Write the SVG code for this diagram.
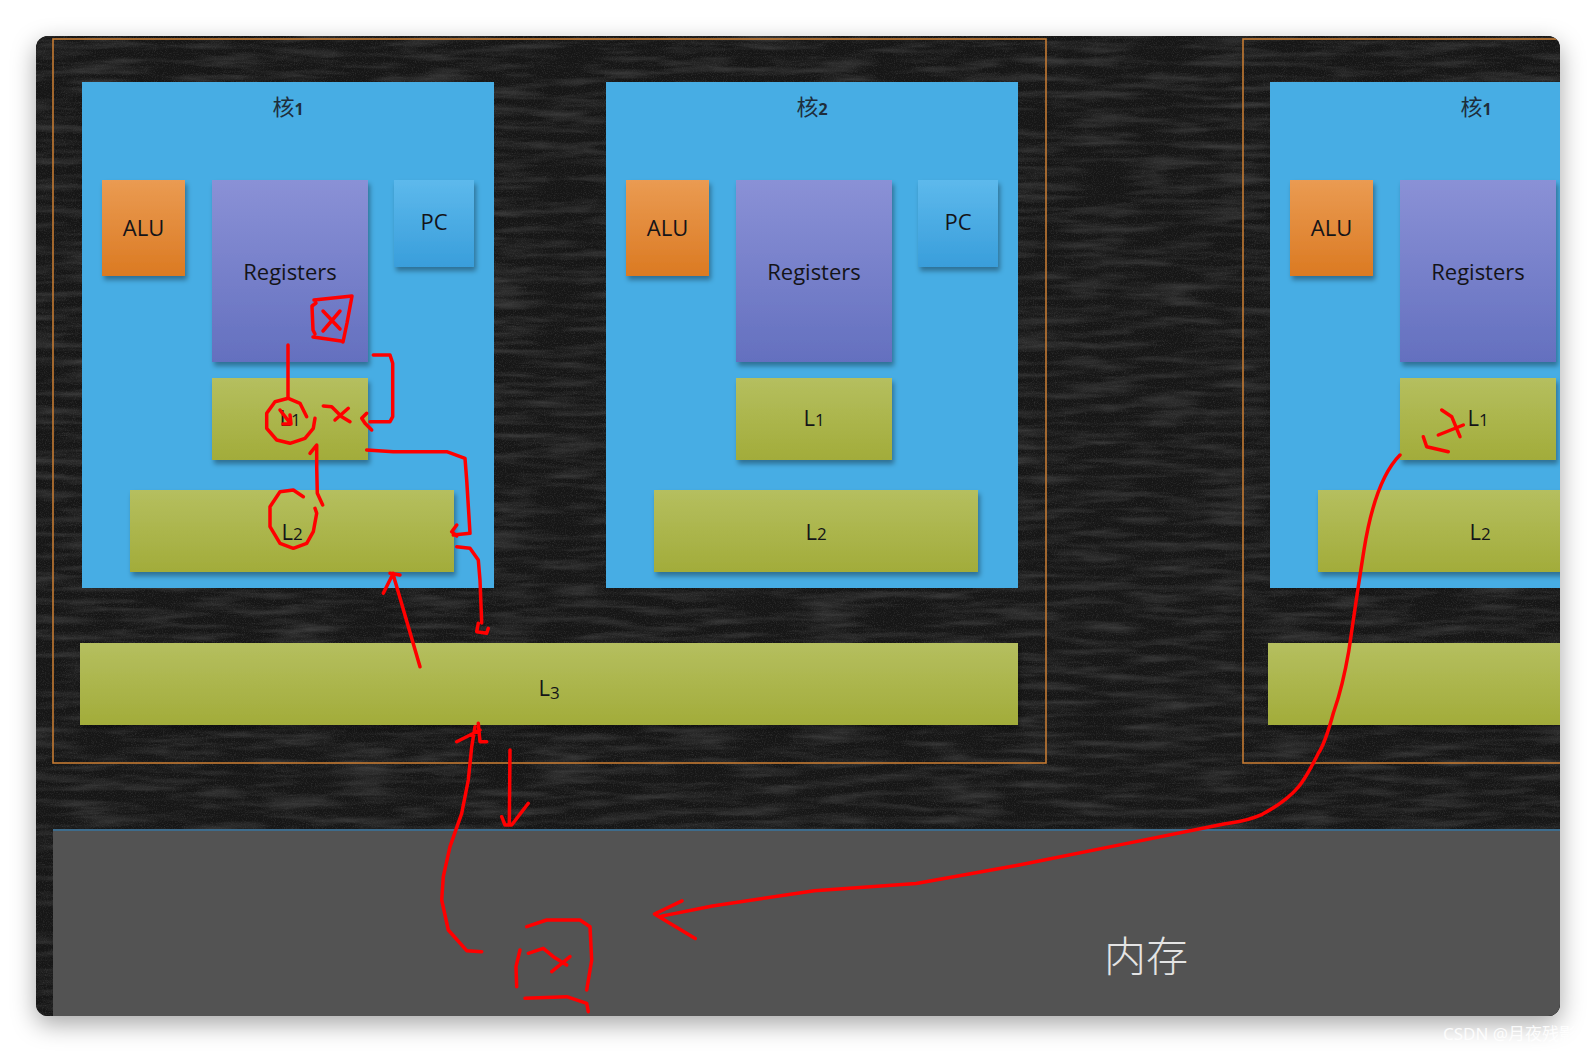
<svg xmlns="http://www.w3.org/2000/svg" width="1596" height="1052" viewBox="0 0 1596 1052">
<style>
.lbl{font-family:"Open Sans","DejaVu Sans",sans-serif;font-size:22px;fill:#141418;text-anchor:middle}
.sub{font-size:17px}
.ttl{font-family:"Noto Sans CJK SC","Noto Sans",sans-serif;font-size:22px;fill:#1e2e3c;text-anchor:middle}
.ttl .n{font-family:"Open Sans",sans-serif;font-size:16px;font-weight:bold}
.mem{font-family:"Noto Sans CJK SC",sans-serif;font-size:42px;font-weight:300;fill:#e4e4e4;text-anchor:middle}
.core{fill:#47ade4}
.alu{fill:url(#gAlu);filter:url(#sh)}
.reg{fill:url(#gReg);filter:url(#sh)}
.pc{fill:url(#gPc);filter:url(#sh)}
.cache{fill:url(#gL);filter:url(#sh)}
.frame{fill:none;stroke:#c47a32;stroke-width:1.6}
.red{fill:none;stroke:#ff0000;stroke-width:3.5;stroke-linecap:round;stroke-linejoin:round}
.wm{font-family:"Noto Sans","Noto Sans CJK SC",sans-serif;font-size:17px;fill:#ffffff;fill-opacity:0.9}
</style>
<defs>
<linearGradient id="gAlu" x1="0" y1="0" x2="0" y2="1"><stop offset="0" stop-color="#ea9b52"/><stop offset="1" stop-color="#db7a22"/></linearGradient>
<linearGradient id="gReg" x1="0" y1="0" x2="0" y2="1"><stop offset="0" stop-color="#8a91d6"/><stop offset="1" stop-color="#6470bf"/></linearGradient>
<linearGradient id="gPc" x1="0" y1="0" x2="0" y2="1"><stop offset="0" stop-color="#5db9ec"/><stop offset="1" stop-color="#399edb"/></linearGradient>
<linearGradient id="gL" x1="0" y1="0" x2="0" y2="1"><stop offset="0" stop-color="#b5bf5f"/><stop offset="1" stop-color="#a2ac3a"/></linearGradient>
<filter id="sh" x="-10%" y="-10%" width="130%" height="130%"><feDropShadow dx="2" dy="4" stdDeviation="2.5" flood-color="#000" flood-opacity="0.35"/></filter>
<filter id="win" x="-5%" y="-5%" width="110%" height="115%"><feDropShadow dx="0" dy="8" stdDeviation="12" flood-color="#000" flood-opacity="0.35"/></filter>
<filter id="chalk" x="0" y="0" width="100%" height="100%">
<feTurbulence type="fractalNoise" baseFrequency="0.015 0.12" numOctaves="5" seed="11" result="n"/>
<feColorMatrix in="n" type="matrix" values="0 0 0 0 1 0 0 0 0 1 0 0 0 0 1 1.5 0 0 0 -0.62" result="a"/>
<feTurbulence type="fractalNoise" baseFrequency="0.9" numOctaves="2" seed="3" result="g"/>
<feColorMatrix in="g" type="matrix" values="0 0 0 0 1 0 0 0 0 1 0 0 0 0 1 1.2 0 0 0 -0.55" result="b"/>
<feMerge><feMergeNode in="a"/><feMergeNode in="b"/></feMerge>
</filter>
<clipPath id="clip"><rect x="36" y="36" width="1524" height="980" rx="12"/></clipPath>
</defs>
<rect width="1596" height="1052" fill="#ffffff"/>
<rect x="36" y="36" width="1524" height="980" rx="12" fill="#161616" filter="url(#win)"/>
<g clip-path="url(#clip)">
<rect x="36" y="36" width="1524" height="980" fill="#161616"/>
<rect x="36" y="36" width="1524" height="980" fill="#fff" filter="url(#chalk)" opacity="0.2"/>

<g id="frame1"><rect class="frame" x="53" y="39" width="993" height="724"/></g>
<g id="frame2"><rect class="frame" x="1243" y="39" width="993" height="724"/></g>

<g id="core1">
<rect class="core" x="82" y="82" width="412" height="506"/>
<text class="ttl" x="288" y="115">核<tspan class="n">1</tspan></text>
</g>
<g id="core1-alu"><rect class="alu" x="102" y="180" width="83" height="96"/><text class="lbl" x="143.5" y="236">ALU</text></g>
<g id="core1-registers"><rect class="reg" x="212" y="180" width="156" height="182"/><text class="lbl" x="290" y="280">Registers</text></g>
<g id="core1-pc"><rect class="pc" x="394" y="180" width="80" height="87"/><text class="lbl" x="434" y="230">PC</text></g>
<g id="core1-l1"><rect class="cache" x="212" y="378" width="156" height="82"/><text class="lbl" x="290" y="426">L<tspan class="sub">1</tspan></text></g>
<g id="core1-l2"><rect class="cache" x="130" y="490" width="324" height="82"/><text class="lbl" x="292" y="540">L<tspan class="sub">2</tspan></text></g>

<g id="core2">
<rect class="core" x="606" y="82" width="412" height="506"/>
<text class="ttl" x="812" y="115">核<tspan class="n">2</tspan></text>
</g>
<g id="core2-alu"><rect class="alu" x="626" y="180" width="83" height="96"/><text class="lbl" x="667.5" y="236">ALU</text></g>
<g id="core2-registers"><rect class="reg" x="736" y="180" width="156" height="182"/><text class="lbl" x="814" y="280">Registers</text></g>
<g id="core2-pc"><rect class="pc" x="918" y="180" width="80" height="87"/><text class="lbl" x="958" y="230">PC</text></g>
<g id="core2-l1"><rect class="cache" x="736" y="378" width="156" height="82"/><text class="lbl" x="814" y="426">L<tspan class="sub">1</tspan></text></g>
<g id="core2-l2"><rect class="cache" x="654" y="490" width="324" height="82"/><text class="lbl" x="816" y="540">L<tspan class="sub">2</tspan></text></g>

<g id="l3-1"><rect class="cache" x="80" y="643" width="938" height="82"/><text class="lbl" x="549" y="696">L<tspan class="sub" dy="3">3</tspan></text></g>

<g id="core3">
<rect class="core" x="1270" y="82" width="412" height="506"/>
<text class="ttl" x="1476" y="115">核<tspan class="n">1</tspan></text>
</g>
<g id="core3-alu"><rect class="alu" x="1290" y="180" width="83" height="96"/><text class="lbl" x="1331.5" y="236">ALU</text></g>
<g id="core3-registers"><rect class="reg" x="1400" y="180" width="156" height="182"/><text class="lbl" x="1478" y="280">Registers</text></g>
<g id="core3-l1"><rect class="cache" x="1400" y="378" width="156" height="82"/><text class="lbl" x="1478" y="426">L<tspan class="sub">1</tspan></text></g>
<g id="core3-l2"><rect class="cache" x="1318" y="490" width="324" height="82"/><text class="lbl" x="1480" y="540">L<tspan class="sub">2</tspan></text></g>

<g id="l3-2"><rect class="cache" x="1268" y="643" width="938" height="82"/></g>

<g id="memory">
<rect x="53" y="830" width="1560" height="200" fill="#535353"/>
<line x1="53" y1="830" x2="1560" y2="830" stroke="#3e6c8c" stroke-width="2"/>
<text class="mem" x="1146" y="972">内存</text>
</g>

<g id="connectors">
<path class="red" d="M316,303 L312,306 L313,330 L315,334 M314,300 L352,296 L347,323 L343,342 M313,337 L341,341 M323,311 L340,329 M340,311 L323,331"/>
<path class="red" d="M288,345 L288,398 M280,410 L290,423 M283,424 L291,424 L290,415"/>
<path class="red" d="M306.7,416.7 L300,403.3 L288.3,398.3 L275,401.7 L266.7,413.3 L266.7,428.3 L276.7,440 L290,443.3 L305,438.3 L313.3,428.3 L315,418.3"/>
<path class="red" d="M323.3,406 L331.7,406.7 L341.7,416.7 L350,421.7 M348.3,408.3 L335,420"/>
<path class="red" d="M373.3,355 L390,355 L392.7,363.3 L392.7,416.7 L390,421.7 L370,421.7 M366.7,413.3 L361.7,418.3 L365,423.3 L371.7,430"/>
<path class="red" d="M366.7,450 L393.3,451.7 L446.7,451.7 L465,458.3 L466.7,480 L470,533.3 L453.3,535 M456.7,525 L451.7,531.7 L456.7,536"/>
<path class="red" d="M322.7,505 L317.3,493.3 L316.7,466.7 L316.7,445 L310,453.3"/>
<path class="red" d="M303.3,496.7 L293.3,490 L280,491.7 L270,506.7 L270,526.7 L280,543.3 L293.3,548.3 L306.7,543.3 L313.3,531.7 L316.7,513.3 L315,508.3"/>
<path class="red" d="M456.7,546.7 L470,548.3 L478.3,560 L480,580 L481.7,623 M478.3,623.3 L476.7,631.7 L486.7,633.3 L488.3,628.3"/>
<path class="red" d="M420,666.7 L393.3,575 M383.3,593.3 L393.3,573.3 M390,573.3 L400,575"/>
<path class="red" d="M481.7,951.7 L466.7,950.7 L448.3,930 L441.7,900 L443.3,876.7 L450,846.7 L461.7,813.3 L468.3,780 L471.7,746.7 L475,726.7 M456.7,741.7 L480,730 M478.3,723.3 L480,741.7 L486.7,741.7"/>
<path class="red" d="M510,750 L509.3,825 M501.7,816.7 L505,825 L511.7,825 L528.3,803.3"/>
<path class="red" d="M526.7,926.7 L546.7,920 L580,920 L590,926.7 L591.7,960 L586.7,990 M520,950 L516,966.7 L516.7,986.7 M525,998.3 L566.7,996.7 L586.7,1003.3 L588.3,1011.7 M528.3,953.3 L543.3,948.3 L553.3,956.7 L566.7,965 M570,956.7 L551.7,971.7"/>
<path class="red" d="M1400,455 C1385,470 1372,500 1364,549.7 C1356,600 1352,630 1348.7,651.5 C1342,690 1336,705 1333.5,712.5 C1326,740 1322,748 1318.3,753.3 C1305,780 1298,795 1262.2,814.3 C1245,822 1235,822 1221.5,824.5 L1119.7,844.9 L1017.9,865.2 L916.1,883.5 L814.3,890.7 L712.5,906 L661.6,916.1 M682,900.9 L654.5,914 L695.2,938.5"/>
<path class="red" d="M1441.7,410 L1451.7,416.7 L1460,436.7 M1463.3,425 L1438.3,435 M1423.3,436.7 L1426.7,446.7 L1448.3,451.7"/>
</g>
</g>
<text class="wm" x="1443" y="1040">CSDN @月夜残影</text>
</svg>
